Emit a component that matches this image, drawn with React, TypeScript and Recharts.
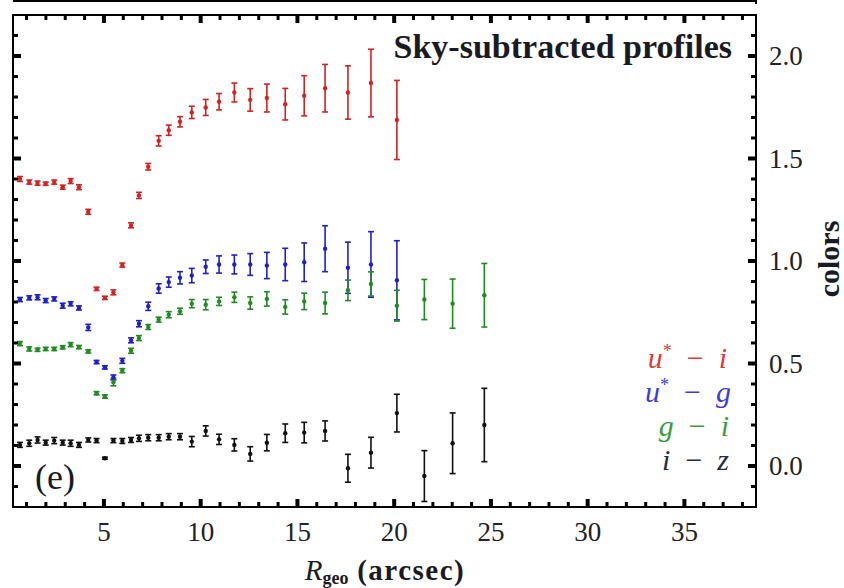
import React from 'react';
import { ScatterChart, Scatter, XAxis, YAxis, ErrorBar } from 'recharts';

// ---- data ----
const R_GEO = [0.66, 1.14, 1.57, 1.99, 2.43, 2.87, 3.28, 3.71, 4.19, 4.62, 5.05, 5.49, 5.95, 6.40, 6.81, 7.29, 7.83, 8.35, 8.93, 9.54, 10.26, 10.95, 11.74, 12.56, 13.42, 14.37, 15.35, 16.43, 17.61, 18.80, 20.14, 21.56, 23.02, 24.66];

const U_I = [1.40, 1.385, 1.38, 1.377, 1.385, 1.36, 1.39, 1.36, 1.24, 0.864, 0.82, 0.847, 0.98, 1.174, 1.32, 1.46, 1.586, 1.638, 1.679, 1.725, 1.749, 1.777, 1.822, 1.786, 1.795, 1.765, 1.806, 1.843, 1.822, 1.868, 1.688];
const U_I_ERR = [0.012, 0.01, 0.01, 0.008, 0.01, 0.01, 0.012, 0.012, 0.012, 0.008, 0.008, 0.012, 0.01, 0.012, 0.015, 0.016, 0.025, 0.025, 0.025, 0.03, 0.039, 0.04, 0.046, 0.055, 0.068, 0.077, 0.098, 0.116, 0.13, 0.165, 0.193];

const U_G = [0.812, 0.82, 0.823, 0.807, 0.815, 0.782, 0.791, 0.771, 0.676, 0.507, 0.481, 0.432, 0.513, 0.613, 0.694, 0.779, 0.866, 0.897, 0.918, 0.929, 0.972, 0.983, 0.983, 0.983, 0.978, 0.983, 0.994, 1.06, 0.967, 0.983, 0.906];
const U_G_ERR = [0.01, 0.01, 0.012, 0.01, 0.01, 0.012, 0.01, 0.01, 0.015, 0.008, 0.008, 0.012, 0.012, 0.012, 0.015, 0.02, 0.023, 0.025, 0.03, 0.035, 0.033, 0.042, 0.046, 0.053, 0.064, 0.079, 0.094, 0.112, 0.125, 0.16, 0.193];

const G_I = [0.597, 0.571, 0.567, 0.571, 0.571, 0.579, 0.592, 0.58, 0.559, 0.355, 0.339, 0.409, 0.465, 0.562, 0.624, 0.678, 0.714, 0.738, 0.755, 0.792, 0.787, 0.803, 0.823, 0.795, 0.815, 0.776, 0.803, 0.795, 0.857, 0.888, 0.782, 0.812, 0.792, 0.833];
const G_I_ERR = [0.01, 0.01, 0.008, 0.008, 0.008, 0.008, 0.01, 0.008, 0.008, 0.008, 0.008, 0.018, 0.01, 0.012, 0.012, 0.012, 0.012, 0.015, 0.015, 0.02, 0.025, 0.02, 0.025, 0.03, 0.035, 0.035, 0.04, 0.053, 0.05, 0.059, 0.075, 0.098, 0.12, 0.155];

const I_Z = [0.103, 0.111, 0.127, 0.114, 0.124, 0.114, 0.111, 0.103, 0.127, 0.124, 0.038, 0.124, 0.122, 0.127, 0.135, 0.138, 0.138, 0.143, 0.143, 0.119, 0.171, 0.13, 0.103, 0.059, 0.114, 0.16, 0.163, 0.171, -0.011, 0.065, 0.258, -0.049, 0.111, 0.2];
const I_Z_ERR = [0.012, 0.015, 0.015, 0.012, 0.015, 0.012, 0.015, 0.012, 0.01, 0.01, 0.005, 0.01, 0.012, 0.012, 0.015, 0.015, 0.015, 0.015, 0.015, 0.025, 0.025, 0.025, 0.03, 0.035, 0.04, 0.045, 0.05, 0.049, 0.068, 0.075, 0.092, 0.124, 0.148, 0.179];

const X_TICKS = [1, 2, 3, 4, 5, 6, 7, 8, 9, 10, 11, 12, 13, 14, 15, 16, 17, 18, 19, 20, 21, 22, 23, 24, 25, 26, 27, 28, 29, 30, 31, 32, 33, 34, 35, 36, 37, 38];
const X_LABELS = [5, 10, 15, 20, 25, 30, 35];
const Y_TICKS = [-0.1, 0, 0.1, 0.2, 0.3, 0.4, 0.5, 0.6, 0.7, 0.8, 0.9, 1.0, 1.1, 1.2, 1.3, 1.4, 1.5, 1.6, 1.7, 1.8, 1.9, 2.0, 2.1];
const Y_LABELS = [0, 0.5, 1.0, 1.5, 2.0];

const X_DOMAIN = [0.3, 38.7];
const Y_DOMAIN = [-0.2, 2.2];

const SERIES = [
  { name: 'u-i', ys: U_I, errs: U_I_ERR, color: '#d22222', text: '#e0383c' },
  { name: 'u-g', ys: U_G, errs: U_G_ERR, color: '#2020c8', text: '#3c3cdc' },
  { name: 'g-i', ys: G_I, errs: G_I_ERR, color: '#228a22', text: '#3c9c3c' },
  { name: 'i-z', ys: I_Z, errs: I_Z_ERR, color: '#111111', text: '#2a2a40' },
];

const build = (ys: number[], errs: number[]) => ys.map((y, i) => ({ x: R_GEO[i], y, e: errs[i] }));

const FONT = "'Liberation Serif', 'Times New Roman', Times, 'DejaVu Serif', serif";
const TXT = { fontFamily: FONT };
const SP = '\u2002';

// chart frame geometry (layout only)
const W = 844;
const H = 588;
const M_TOP = 14;
const M_LEFT = 12;
const TOP_AXIS_H = 1;
const LEFT_AXIS_W = 1;
const BOTTOM_AXIS_H = 81;
const RIGHT_AXIS_W = 88;
const PLOT_X = M_LEFT + LEFT_AXIS_W;
const PLOT_Y = M_TOP + TOP_AXIS_H;
const PLOT_W = W - PLOT_X - RIGHT_AXIS_W;
const PLOT_H = H - PLOT_Y - BOTTOM_AXIS_H;

const isMajorY = (v: number) => Y_LABELS.some((m) => Math.abs(m - v) < 1e-6);

const BottomTick = (props: any) => {
  const { x, y, payload } = props;
  const v = payload.value;
  const major = X_LABELS.includes(v);
  return (
    <g>
      <line x1={x} x2={x} y1={y} y2={y - (major ? 8 : 5)} stroke="#000" strokeWidth={major ? 4 : 3} />
      {major && (
        <text x={x} y={y + 34} textAnchor="middle" fontSize={27} style={TXT} fill="#222">
          {v}
        </text>
      )}
    </g>
  );
};

const TopTick = (props: any) => {
  const { x, y, payload } = props;
  const major = X_LABELS.includes(payload.value);
  return <line x1={x} x2={x} y1={y} y2={y + (major ? 8 : 5)} stroke="#000" strokeWidth={major ? 4 : 3} />;
};

const RightTick = (props: any) => {
  const { x, y, payload } = props;
  const v = payload.value;
  const major = isMajorY(v);
  return (
    <g>
      <line x1={x} x2={x - (major ? 8 : 5)} y1={y} y2={y} stroke="#000" strokeWidth={major ? 4 : 3} />
      {major && (
        <text x={x + 13} y={y + 9} textAnchor="start" fontSize={27} style={TXT} fill="#222">
          {v.toFixed(1)}
        </text>
      )}
    </g>
  );
};

const LeftTick = (props: any) => {
  const { x, y, payload } = props;
  const major = isMajorY(payload.value);
  return <line x1={x} x2={x + (major ? 8 : 5)} y1={y} y2={y} stroke="#000" strokeWidth={major ? 4 : 3} />;
};

const dotShape = (color: string) => (p: any) => <circle cx={p.cx} cy={p.cy} r={2.2} fill={color} />;

export default function App() {
  const axisLine = { stroke: '#000', strokeWidth: 2 };
  return (
    <div style={{ position: 'absolute', left: 0, top: 0, width: W, height: H, background: '#fff' }}>
      <ScatterChart width={W} height={H} margin={{ top: M_TOP, right: 0, bottom: 0, left: M_LEFT }}>
        <XAxis
          xAxisId="b"
          type="number"
          dataKey="x"
          orientation="bottom"
          domain={X_DOMAIN}
          ticks={X_TICKS}
          interval={0}
          height={BOTTOM_AXIS_H}
          tickSize={0}
          tickMargin={0}
          tickLine={false}
          axisLine={axisLine}
          tick={<BottomTick />}
          allowDataOverflow
        />
        <XAxis
          xAxisId="t"
          type="number"
          dataKey="x"
          orientation="top"
          domain={X_DOMAIN}
          ticks={X_TICKS}
          interval={0}
          height={TOP_AXIS_H}
          tickSize={0}
          tickMargin={0}
          tickLine={false}
          axisLine={axisLine}
          tick={<TopTick />}
          allowDataOverflow
        />
        <YAxis
          yAxisId="r"
          type="number"
          dataKey="y"
          orientation="right"
          domain={Y_DOMAIN}
          ticks={Y_TICKS}
          interval={0}
          width={RIGHT_AXIS_W}
          tickSize={0}
          tickMargin={0}
          tickLine={false}
          axisLine={axisLine}
          tick={<RightTick />}
          allowDataOverflow
        />
        <YAxis
          yAxisId="l"
          type="number"
          dataKey="y"
          orientation="left"
          domain={Y_DOMAIN}
          ticks={Y_TICKS}
          interval={0}
          width={LEFT_AXIS_W}
          tickSize={0}
          tickMargin={0}
          tickLine={false}
          axisLine={axisLine}
          tick={<LeftTick />}
          allowDataOverflow
        />
        {SERIES.map((s) => (
          <Scatter
            key={s.name}
            name={s.name}
            data={build(s.ys, s.errs)}
            xAxisId="b"
            yAxisId="r"
            fill={s.color}
            shape={dotShape(s.color)}
            isAnimationActive={false}
          >
            <ErrorBar dataKey="e" direction="y" width={3} stroke={s.color} strokeWidth={1.6} isAnimationActive={false} />
          </Scatter>
        ))}
      </ScatterChart>
      <svg
        width={W}
        height={H}
        style={{ position: 'absolute', left: 0, top: 0, pointerEvents: 'none', fontFamily: FONT }}
      >
        <rect x={PLOT_X} y={PLOT_Y} width={PLOT_W} height={PLOT_H} fill="none" stroke="#000" strokeWidth={2} />
        <line x1={PLOT_X} x2={PLOT_X + PLOT_W + 1} y1={1} y2={1} stroke="#000" strokeWidth={2} />
        <line x1={PLOT_X + PLOT_W} x2={PLOT_X + PLOT_W} y1={0} y2={4} stroke="#000" strokeWidth={2} />
        <text x={732} y={58} textAnchor="end" fontSize={34} fontWeight="bold" fill="#1a1a22" style={TXT}>
          Sky-subtracted profiles
        </text>
        <text x={35} y={489} fontSize={36} fill="#1a1a22" style={TXT}>
          (e)
        </text>
        <g fontSize={30} textAnchor="end" style={TXT}>
          <text x={727} y={368} fill={SERIES[0].text}>
            <tspan fontStyle="italic">u</tspan>
            <tspan dy={-11} fontSize={18}>*</tspan>
            <tspan dy={11}>{`${SP}−${SP}`}</tspan>
            <tspan fontStyle="italic">i</tspan>
          </text>
          <text x={731} y={402} fill={SERIES[1].text}>
            <tspan fontStyle="italic">u</tspan>
            <tspan dy={-11} fontSize={18}>*</tspan>
            <tspan dy={11}>{`${SP}−${SP}`}</tspan>
            <tspan fontStyle="italic">g</tspan>
          </text>
          <text x={729} y={436} fill={SERIES[2].text}>
            <tspan fontStyle="italic">g</tspan>
            <tspan>{`${SP}−${SP}`}</tspan>
            <tspan fontStyle="italic">i</tspan>
          </text>
          <text x={729} y={470} fill={SERIES[3].text}>
            <tspan fontStyle="italic">i</tspan>
            <tspan>{`${SP}−${SP}`}</tspan>
            <tspan fontStyle="italic">z</tspan>
          </text>
        </g>
        <text x={385} y={580} textAnchor="middle" fontSize={29} fill="#1a1a22" style={TXT}>
          <tspan fontStyle="italic">R</tspan>
          <tspan dy={4} fontSize={18} fontWeight="bold">geo</tspan>
          <tspan dy={-4} fontWeight="bold" letterSpacing={1.5}> (arcsec)</tspan>
        </text>
        <text
          x={839}
          y={259}
          textAnchor="middle"
          fontSize={30}
          fontWeight="bold"
          fill="#1a1a22"
          style={TXT}
          transform="rotate(-90 839 259)"
        >
          colors
        </text>
      </svg>
    </div>
  );
}
